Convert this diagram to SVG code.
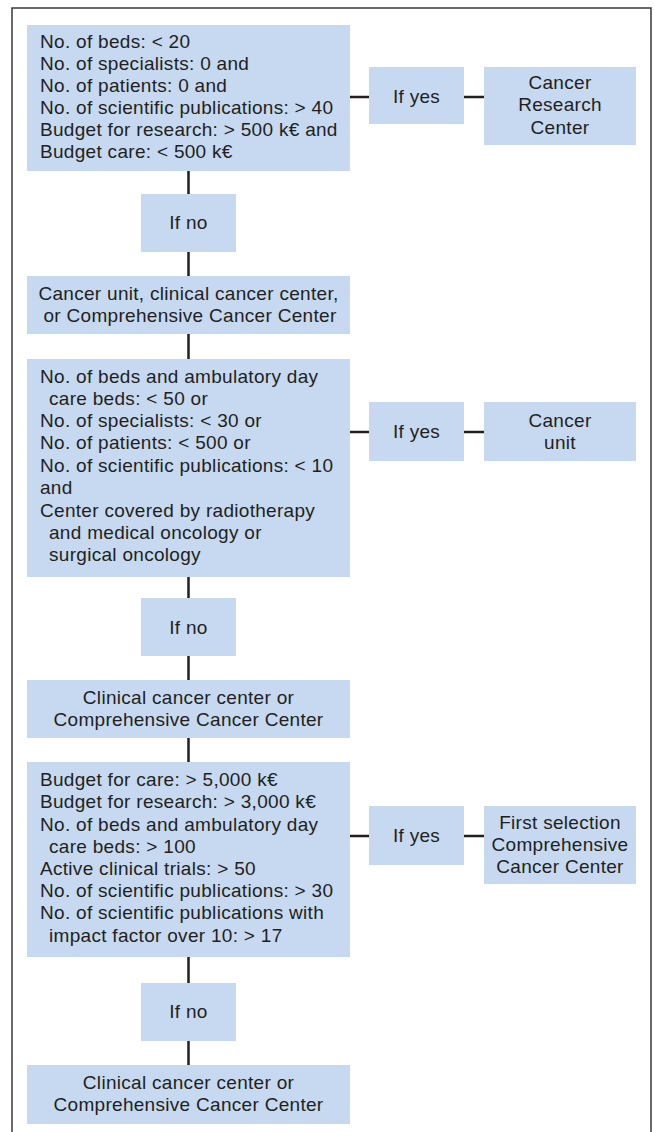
<svg xmlns="http://www.w3.org/2000/svg" width="654" height="1132" viewBox="0 0 654 1132">
<style>
.box{fill:#c6d9f0;}
.t{font-family:"Liberation Sans",Arial,sans-serif;font-size:19px;fill:#231f20;letter-spacing:0.3px;}
.c{text-anchor:middle;}
.ln{stroke:#231f20;stroke-width:2.5;fill:none;}
.frame{stroke:#3a3a3a;stroke-width:1.5;fill:none;}
</style>
<rect width="654" height="1132" fill="#ffffff"/>
<path class="frame" d="M12,1132 V8 H651 V1132"/>
<g id="connectors">
<path class="ln" d="M188.5,171 V194 M188.5,252 V276 M188.5,334 V359 M188.5,577 V598 M188.5,656 V680 M188.5,738 V762 M188.5,957 V983 M188.5,1041 V1065"/>
<path class="ln" d="M350,97 H369 M464,97 H484 M350,432 H369 M464,432 H484 M350,836 H369 M464,836 H484"/>
</g>
<g id="crit1">
<rect class="box" x="27" y="25" width="323" height="146"/>
<text class="t" x="40" y="48">No. of beds: &lt; 20</text>
<text class="t" x="40" y="70">No. of specialists: 0 and</text>
<text class="t" x="40" y="92">No. of patients: 0 and</text>
<text class="t" x="40" y="114">No. of scientific publications: &gt; 40</text>
<text class="t" x="40" y="136">Budget for research: &gt; 500 k€ and</text>
<text class="t" x="40" y="158">Budget care: &lt; 500 k€</text>
</g>
<g id="yes1">
<rect class="box" x="369" y="67" width="95" height="57"/>
<text class="t c" x="416.5" y="103">If yes</text>
</g>
<g id="crc">
<rect class="box" x="484" y="67" width="152" height="78"/>
<text class="t c" x="560" y="89">Cancer</text>
<text class="t c" x="560" y="111">Research</text>
<text class="t c" x="560" y="134">Center</text>
</g>
<g id="no1">
<rect class="box" x="141" y="194" width="95" height="58"/>
<text class="t c" x="188.5" y="229">If no</text>
</g>
<g id="group1">
<rect class="box" x="27" y="276" width="323" height="58"/>
<text class="t c" x="188.5" y="300">Cancer unit, clinical cancer center,</text>
<text class="t c" x="190" y="322">or Comprehensive Cancer Center</text>
</g>
<g id="crit2">
<rect class="box" x="27" y="359" width="323" height="218"/>
<text class="t" x="40" y="383">No. of beds and ambulatory day</text>
<text class="t" x="49" y="405">care beds: &lt; 50 or</text>
<text class="t" x="40" y="427">No. of specialists: &lt; 30 or</text>
<text class="t" x="40" y="449">No. of patients: &lt; 500 or</text>
<text class="t" x="40" y="472">No. of scientific publications: &lt; 10</text>
<text class="t" x="40" y="494">and</text>
<text class="t" x="40" y="517">Center covered by radiotherapy</text>
<text class="t" x="49" y="539">and medical oncology or</text>
<text class="t" x="49" y="561">surgical oncology</text>
</g>
<g id="yes2">
<rect class="box" x="369" y="402" width="95" height="59"/>
<text class="t c" x="416.5" y="438">If yes</text>
</g>
<g id="cu">
<rect class="box" x="484" y="402" width="152" height="59"/>
<text class="t c" x="560" y="427">Cancer</text>
<text class="t c" x="560" y="449">unit</text>
</g>
<g id="no2">
<rect class="box" x="141" y="598" width="95" height="58"/>
<text class="t c" x="188.5" y="634">If no</text>
</g>
<g id="group2">
<rect class="box" x="27" y="680" width="323" height="58"/>
<text class="t c" x="188.5" y="704">Clinical cancer center or</text>
<text class="t c" x="188.5" y="726">Comprehensive Cancer Center</text>
</g>
<g id="crit3">
<rect class="box" x="27" y="762" width="323" height="195"/>
<text class="t" x="40" y="786">Budget for care: &gt; 5,000 k€</text>
<text class="t" x="40" y="808">Budget for research: &gt; 3,000 k€</text>
<text class="t" x="40" y="831">No. of beds and ambulatory day</text>
<text class="t" x="49" y="853">care beds: &gt; 100</text>
<text class="t" x="40" y="875">Active clinical trials: &gt; 50</text>
<text class="t" x="40" y="897">No. of scientific publications: &gt; 30</text>
<text class="t" x="40" y="919">No. of scientific publications with</text>
<text class="t" x="49" y="942">impact factor over 10: &gt; 17</text>
</g>
<g id="yes3">
<rect class="box" x="369" y="806" width="95" height="59"/>
<text class="t c" x="416.5" y="842">If yes</text>
</g>
<g id="fsccc">
<rect class="box" x="484" y="806" width="152" height="78"/>
<text class="t c" x="560" y="829">First selection</text>
<text class="t c" x="560" y="851">Comprehensive</text>
<text class="t c" x="560" y="873">Cancer Center</text>
</g>
<g id="no3">
<rect class="box" x="141" y="983" width="95" height="58"/>
<text class="t c" x="188.5" y="1018">If no</text>
</g>
<g id="group3">
<rect class="box" x="27" y="1065" width="323" height="59"/>
<text class="t c" x="188.5" y="1089">Clinical cancer center or</text>
<text class="t c" x="188.5" y="1111">Comprehensive Cancer Center</text>
</g>
</svg>
